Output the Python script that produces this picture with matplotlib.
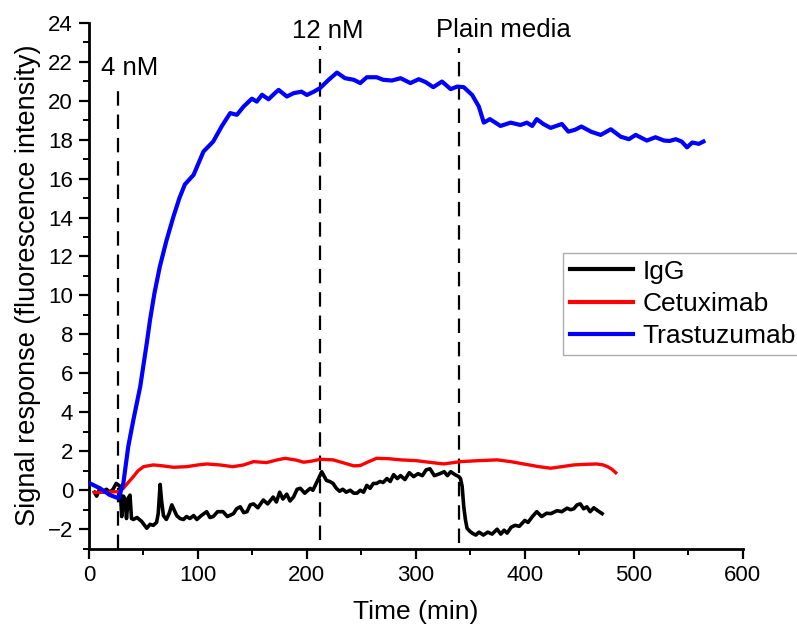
import matplotlib.pyplot as plt

plt.rcParams['font.family'] = ['Liberation Sans', 'DejaVu Sans']

# IgG (black): (time, signal)
igg = [(5, -0.1), (7, -0.3), (10, 0.1), (13, -0.05), (16, 0.05), (19, -0.1), (22, 0.05), (25, 0.35),
       (28.5, 0.2), (30, -1.35), (31.5, -0.3), (33, -0.45), (34.4, -1.45), (36, -0.4), (37.6, -0.25),
       (39, -1.45), (40.7, -1.5), (44, -1.4), (48.3, -1.6), (51, -1.8), (53, -1.95), (56, -1.75), (59, -1.8),
       (62, -1.65), (63.5, -1.2), (65.3, 0.3), (66.5, -0.5), (68.3, -1.3), (71, -1.5), (73.5, -1.2),
       (76, -0.75), (78, -1.0), (80.5, -1.3), (83.5, -1.45), (86.7, -1.5), (89.5, -1.35), (92.6, -1.45),
       (96, -1.3), (99, -1.5), (103, -1.3), (108, -1.1), (111, -1.4), (114, -1.35), (118, -1.1), (123, -1.1),
       (127, -1.35), (132.6, -1.2), (135.5, -0.95), (138.8, -0.85), (142, -1.15), (145, -1.1), (148, -0.75),
       (151, -0.7), (155, -0.9), (160, -0.5), (164, -0.7), (169, -0.35), (172, -0.6), (175, -0.1),
       (178, -0.45), (181.5, -0.2), (184.5, -0.55), (187.7, -0.35), (191, 0.05), (194, 0.1), (198, -0.15),
       (203, 0.1), (205.5, 0.0), (207.7, 0.25), (210.7, 0.6), (213.6, 0.95), (216, 0.7), (218, 0.5),
       (221, 0.45), (224, 0.35), (227, 0.1), (230, -0.05), (233, 0.05), (236, -0.1), (239.8, 0.0),
       (243, -0.15), (246, -0.15), (249, 0.0), (252, -0.1), (255, 0.25), (258, 0.1), (261, 0.35), (264, 0.35),
       (267, 0.45), (270, 0.4), (273.5, 0.6), (276.5, 0.45), (279.6, 0.8), (283, 0.6), (286, 0.75),
       (290, 0.55), (294, 0.9), (298, 0.7), (302, 0.85), (306, 0.75), (309.5, 1.05), (313, 1.1), (317, 0.75),
       (322, 0.85), (326, 0.95), (329, 0.75), (332, 0.95), (336, 0.8), (339.4, 0.7), (341, 0.6), (342.5, 0.2),
       (344, -0.85), (345.5, -1.5), (347, -1.95), (349.5, -2.1), (351.7, -2.2), (355, -2.3), (358, -2.15),
       (362, -2.3), (366, -2.15), (370, -2.25), (374.6, -2.0), (378, -2.25), (381, -2.05), (383.8, -2.2),
       (387.5, -1.9), (391, -1.8), (395, -1.85), (400, -1.55), (403, -1.65), (407, -1.35), (411, -1.1),
       (415.5, -1.35), (420, -1.18), (424, -1.2), (429.6, -1.05), (434, -1.1), (438.8, -0.92), (442, -1.0),
       (445, -0.95), (448, -0.75), (451, -0.7), (454, -0.95), (457, -0.85), (460, -1.1), (463.4, -0.9),
       (467, -1.05), (471, -1.2)]
igg_t = [p[0] for p in igg]
igg_v = [p[1] for p in igg]

# Cetuximab (red)
cet_t = [5, 15, 27, 31.5, 36, 40.7, 45, 50, 59, 68, 77.5, 89.6, 100, 108, 120, 132, 142, 151, 163, 172, 180, 190,
         197, 205, 212, 224, 234, 243, 249, 256, 264, 275, 286, 300, 312, 325.6, 341, 358, 374.6, 387, 399, 412,
         423.7, 435, 445, 456, 466, 472, 476, 480, 483.5]
cet_v = [-0.12, -0.1, -0.07, 0.1, 0.4, 0.7, 1.0, 1.21, 1.3, 1.25, 1.18, 1.21, 1.3, 1.35, 1.3, 1.21, 1.3, 1.47, 1.42,
         1.55, 1.64, 1.55, 1.44, 1.5, 1.59, 1.56, 1.4, 1.25, 1.27, 1.45, 1.64, 1.62, 1.56, 1.52, 1.44, 1.35, 1.47,
         1.52, 1.56, 1.47, 1.35, 1.22, 1.13, 1.22, 1.3, 1.33, 1.35, 1.3, 1.21, 1.08, 0.9]

# Trastuzumab (blue)
tra_t = [1, 10, 19, 27, 31.5, 36, 40.7, 47, 53, 56, 60, 65, 71, 77.5, 83, 88, 96, 105, 114, 122, 129.6, 135.7,
         142, 149.5, 154, 158.8, 164.8, 170, 174, 181.6, 187.7, 195, 200, 206, 212, 220, 227.6, 235, 243, 249, 255,
         264, 270, 278, 286, 295, 302.7, 309, 316, 324, 332, 338, 344, 351.7, 357.8, 362.4, 368, 377.7, 387, 396,
         402, 406.8, 411, 417, 423.7, 434, 440, 446, 452, 461, 469.7, 479, 488, 495.6, 501.8, 512, 520, 527.8,
         533, 538.6, 544, 549, 553.7, 559.8, 564]
tra_v = [0.35, 0.1, -0.24, -0.41, 0.36, 2.24, 3.61, 5.32, 7.55, 8.74, 10.1, 11.48, 12.8, 14.05, 15.0, 15.7, 16.19,
         17.38, 17.9, 18.7, 19.36, 19.27, 19.7, 20.1, 19.95, 20.3, 20.07, 20.35, 20.55, 20.21, 20.38, 20.46, 20.29,
         20.45, 20.64, 21.07, 21.44, 21.15, 21.07, 20.9, 21.2, 21.2, 21.07, 21.03, 21.15, 20.9, 21.1, 20.95, 20.69,
         20.98, 20.59, 20.72, 20.69, 20.29, 19.7, 18.87, 19.05, 18.7, 18.87, 18.75, 18.87, 18.7, 19.05, 18.8,
         18.6, 18.8, 18.41, 18.5, 18.67, 18.4, 18.24, 18.53, 18.15, 18.02, 18.24, 17.95, 18.12, 17.95, 17.93,
         18.02, 17.9, 17.6, 17.85, 17.78, 17.9]

# injection markers
marks_t = [26.6, 212, 340]
marks_top = [20.6, 22.8, 22.7]
marks_bottom = [-3.0, -2.55, -2.7]
marks_label = ['4 nM', '12 nM', 'Plain media']
marks_label_x = [37.7, 218.7, 380]
marks_label_y = [21.33, 23.22, 23.24]

fig = plt.figure(figsize=(7.97, 6.32), dpi=100)
ax = fig.add_axes([0.1117, 0.1318, 0.8201, 0.8323])

ax.plot(igg_t, igg_v, color='black', lw=2.6, label='IgG', zorder=3)
ax.plot(cet_t, cet_v, color='#ff0000', lw=2.4, label='Cetuximab', zorder=3)
ax.plot(tra_t, tra_v, color='#0000ff', lw=3.0, label='Trastuzumab', zorder=3)

for t, y0, y1 in zip(marks_t, marks_bottom, marks_top):
    ax.plot([t, t], [y0, y1], color='black', lw=1.6, dashes=(6.5, 4), zorder=2)
for lab, lx, ly in zip(marks_label, marks_label_x, marks_label_y):
    ax.text(lx, ly, lab, fontsize=18.5, ha='center', va='baseline')

ax.set_xlim(0, 600)
ax.set_ylim(-3, 24)
ax.set_xticks(range(0, 601, 100))
ax.set_xticks(range(0, 601, 50), minor=True)
ax.set_yticks(range(-2, 25, 2))
ax.set_yticks(range(-3, 25, 1), minor=True)
ax.set_yticklabels([str(v).replace('-', '\u2212') for v in range(-2, 25, 2)])

for s in ['top', 'right']:
    ax.spines[s].set_visible(False)
for s in ['left', 'bottom']:
    ax.spines[s].set_linewidth(2.0)
ax.tick_params(which='major', direction='out', length=7.5, width=1.6, labelsize=16, pad=4)
ax.tick_params(which='minor', direction='out', length=4.5, width=1.4)

ax.set_xlabel('Time (min)', fontsize=19, labelpad=10)
ax.set_ylabel('Signal response (fluorescence intensity)', fontsize=19.5, labelpad=5)

leg = ax.legend(loc='upper left', bbox_to_anchor=(563 / 797, 1 - 253 / 632), bbox_transform=fig.transFigure,
                fontsize=19, frameon=True, fancybox=False, handlelength=2.4, handletextpad=0.35,
                borderpad=0.25, labelspacing=0.32, borderaxespad=0)
leg.get_frame().set_edgecolor('#999999')
leg.get_frame().set_linewidth(1.0)
for line in leg.get_lines():
    line.set_linewidth(3)

fig.savefig('out.png', dpi=100)
